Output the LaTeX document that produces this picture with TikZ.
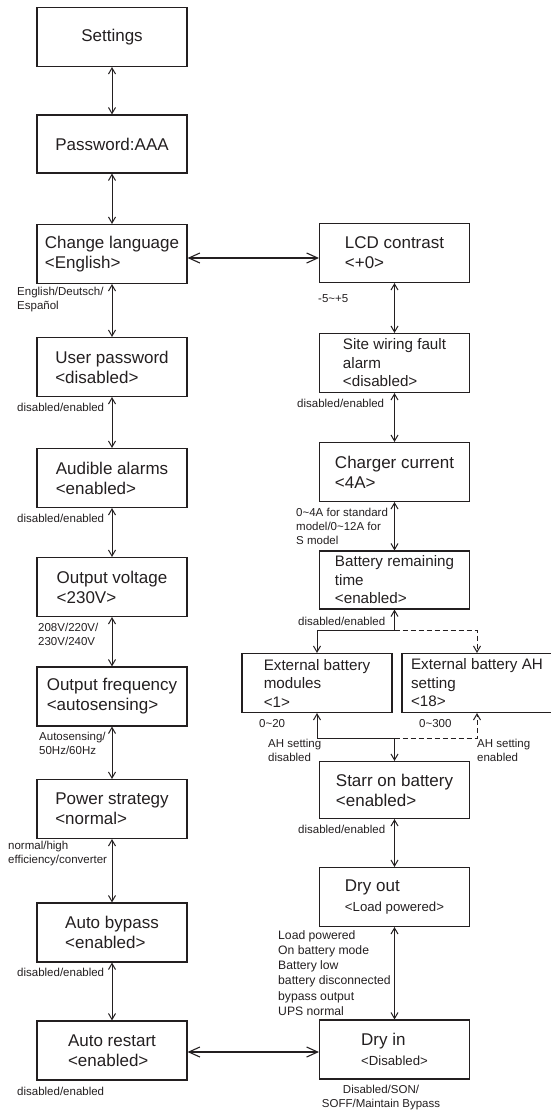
\documentclass[tikz,border=0pt]{standalone}
\usepackage{fontspec}
\setmainfont{Liberation Sans}
\usetikzlibrary{arrows.meta}
\definecolor{ink}{RGB}{35,31,32}

\begin{document}
\begin{tikzpicture}[x=1pt,y=1pt,
        menu/.style={draw=ink,line width=1.1pt,minimum width=150pt,minimum height=59pt,inner sep=0pt,align=left,text=ink,font=\fontsize{17}{20}\selectfont},
        menu3/.style={menu,font=\fontsize{15.2}{18.5}\selectfont},
        note/.style={inner sep=0pt,anchor=west,align=left,text=ink,font=\fontsize{11.5}{14}\selectfont},
        vlink/.style={ink,line width=1pt,{Straight Barb[length=6pt,width=7pt]}-{Straight Barb[length=6pt,width=7pt]}},
        hlink/.style={ink,line width=1.1pt,{Straight Barb[length=11pt,width=10pt]}-{Straight Barb[length=11pt,width=10pt]}},
        dlink/.style={ink,line width=1pt,dash pattern=on 5pt off 3pt,-{Straight Barb[length=6pt,width=7pt]}}]
        \useasboundingbox (0,0) rectangle (550,-1113);

        % left column
        \node[menu] (Set) at (112,-37) {Settings};
        \node[menu,minimum height=58pt] (Pw) at (112,-144) {Password:AAA};
        \node[menu] (Lang) at (112,-254) {Change language\\<English>};
        \node[menu] (UPw) at (112,-367) {User password\\<disabled>};
        \node[menu] (Aud) at (112,-478) {Audible alarms\\<enabled>};
        \node[menu] (OutV) at (112,-587) {Output voltage\\<230V>};
        \node[menu] (OutF) at (112,-696.5) {Output frequency\\<autosensing>};
        \node[menu] (Pow) at (112,-809) {Power strategy\\<normal>};
        \node[menu] (Byp) at (112,-932.5) {Auto bypass\\<enabled>};
        \node[menu] (Rst) at (112,-1050.5) {Auto restart\\<enabled>};

        % right column
        \node[menu] (Lcd) at (394.5,-253) {LCD contrast\\<+0>};
        \node[menu3] (Wir) at (394.5,-363) {Site wiring fault\\alarm\\<disabled>};
        \node[menu] (Chg) at (394.5,-472) {Charger current\\<4A>};
        \node[menu3,minimum height=58pt] (Bat) at (394.5,-580) {Battery remaining\\time\\<enabled>};
        \node[menu3] (ExtM) at (317,-683) {External battery\\modules\\<1>};
        \node[menu3] (ExtAH) at (477,-683) {External battery AH\\setting\\<18>};
        \node[menu,minimum height=57pt] (Son) at (394.5,-790) {Starr on battery\\<enabled>};
        \node[menu] (DOut) at (394.5,-897) {Dry out\\{\fontsize{13.2}{16}\selectfont <Load powered>}};
        \node[menu] (DIn) at (394.5,-1049.5) {Dry in\\{\fontsize{13.2}{16}\selectfont <Disabled>}};

        \coordinate (Fork) at (394.5,-630);
        \coordinate (Merge) at (394.5,-738);

        % option texts
        \node[note] (tLang) at (17,-300) {English/Deutsch/\\Español};
        \node[note] (tUPw) at (17,-407) {disabled/enabled};
        \node[note] (tAud) at (17,-518) {disabled/enabled};
        \node[note] (tOutV) at (38,-634.5) {208V/220V/\\230V/240V};
        \node[note] (tOutF) at (39,-743) {Autosensing/\\50Hz/60Hz};
        \node[note] (tPow) at (8,-854) {normal/high\\efficiency/converter};
        \node[note] (tByp) at (17,-972) {disabled/enabled};
        \node[note] (tRst) at (17,-1091) {disabled/enabled};
        \node[note] (tLcd) at (318,-299) {-5\textasciitilde+5};
        \node[note] (tWir) at (297,-403) {disabled/enabled};
        \node[note] (tChg) at (296,-526.5) {0\textasciitilde4A for standard\\model/0\textasciitilde12A for\\S model};
        \node[note] (tBat) at (298,-621) {disabled/enabled};
        \node[note] (tExtM) at (259,-724) {0\textasciitilde20};
        \node[note] (tOff) at (268,-750.5) {AH setting\\disabled};
        \node[note] (tExtAH) at (419,-724) {0\textasciitilde300};
        \node[note] (tOn) at (477,-750.5) {AH setting\\enabled};
        \node[note] (tSon) at (298,-829) {disabled/enabled};
        \node[note,font=\fontsize{12.2}{15.2}\selectfont] (tDOut) at (278,-973) {Load powered\\On battery mode\\Battery low\\battery disconnected\\bypass output\\UPS normal};
        \node[note,anchor=center,align=center] (tDIn) at (381,-1098) {Disabled/SON/\\SOFF/Maintain Bypass};

        % links
        \draw[vlink] (Set.south) -- (Pw.north);
        \draw[vlink] (Pw.south) -- (Lang.north);
        \draw[vlink] (Lang.south) -- (UPw.north);
        \draw[vlink] (UPw.south) -- (Aud.north);
        \draw[vlink] (Aud.south) -- (OutV.north);
        \draw[vlink] (OutV.south) -- (OutF.north);
        \draw[vlink] (OutF.south) -- (Pow.north);
        \draw[vlink] (Pow.south) -- (Byp.north);
        \draw[vlink] (Byp.south) -- (Rst.north);
        \draw[hlink] ([yshift=-4pt]Lang.east) -- ([yshift=-5pt]Lcd.west);
        \draw[hlink] ([yshift=-1.5pt]Rst.east) -- ([yshift=-2.5pt]DIn.west);

        \draw[vlink] (Lcd.south) -- (Wir.north);
        \draw[vlink] (Wir.south) -- (Chg.north);
        \draw[vlink] (Chg.south) -- (Bat.north);
        \draw[vlink] (Bat.south) -- (Fork) -| (ExtM.north);
        \draw[dlink] (Fork) -| (ExtAH.north);
        \draw[vlink] (ExtM.south) |- (Merge) -- (Son.north);
        \draw[dlink] (Merge) -| (ExtAH.south);
        \draw[vlink] (Son.south) -- (DOut.north);
        \draw[vlink] (DOut.south) -- (DIn.north);
\end{tikzpicture}
\end{document}
